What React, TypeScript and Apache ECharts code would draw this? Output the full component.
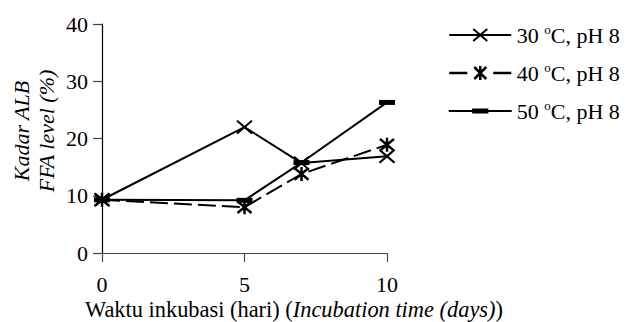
import React, { useEffect, useRef } from "react";
import * as echarts from "echarts";

const days = [0, 5, 7, 10];
const seriesNames = ["30 oC, pH 8", "40 oC, pH 8", "50 oC, pH 8"];
const ffa30 = [9.3, 22.0, 15.7, 16.9];
const ffa40 = [9.3, 8.0, 13.8, 18.9];
const ffa50 = [9.3, 9.2, 15.8, 26.3];
const yTicks = [0, 10, 20, 30, 40];
const xTicks = [0, 5, 10];

const FONT = "'Liberation Serif', 'Times New Roman', serif";

const CROSS = "path://M0,0L10,10M10,0L0,10";
const STAR = "path://M0,0L10,10M10,0L0,10M5,-1L5,11";

// legend icons: 62 x 17 boxes (line + marker)
const ICON30 = "path://M0,8.5L62,8.5M24,2.5L38,14.5M38,2.5L24,14.5M0,0M62,17";
const ICON40 = "path://M0,8.5L18,8.5M44,8.5L62,8.5M25,2.5L37,14.5M37,2.5L25,14.5M31,1.5L31,15.5M0,0M62,17";
const ICON50 = "path://M0,7.5L62,7.5L62,9.5L0,9.5ZM23,6L39,6L39,11L23,11Z";

export default function App() {
  const ref = useRef<HTMLDivElement>(null);
  useEffect(() => {
    document.body.style.margin = "0";
    const chart = echarts.init(ref.current!, undefined, { renderer: "svg" });
    const mk = (vals: number[]) => days.map((d, i) => [d, vals[i]]);
    const lineBase = { color: "#000", width: 2 };
    chart.setOption({
      animation: false,
      backgroundColor: "#fff",
      textStyle: { fontFamily: FONT },
      grid: { left: 102, top: 24, width: 285, height: 229, containLabel: false },
      xAxis: {
        type: "value",
        min: xTicks[0],
        max: xTicks[xTicks.length - 1],
        interval: 5,
        axisLine: { lineStyle: { color: "#444", width: 1.2 } },
        axisTick: { show: true, length: 9, lineStyle: { color: "#444", width: 1.2 } },
        axisLabel: { margin: 20, color: "#000", fontFamily: FONT, fontSize: 22 },
        splitLine: { show: false },
      },
      yAxis: {
        type: "value",
        min: yTicks[0],
        max: yTicks[yTicks.length - 1],
        interval: 10,
        axisLine: { show: true, lineStyle: { color: "#000", width: 1.2 } },
        axisTick: { show: true, length: 9, lineStyle: { color: "#444", width: 1.2 } },
        axisLabel: { margin: 14, color: "#000", fontFamily: FONT, fontSize: 22 },
        splitLine: { show: false },
      },
      legend: {
        orient: "vertical",
        left: 443,
        top: 18,
        itemWidth: 63,
        itemHeight: 17,
        itemGap: 14,
        symbolKeepAspect: true,
        data: [
          { name: seriesNames[0], icon: ICON30, itemStyle: { color: "transparent", borderColor: "#000", borderWidth: 2 } },
          { name: seriesNames[1], icon: ICON40, itemStyle: { color: "transparent", borderColor: "#000", borderWidth: 2.5 } },
          { name: seriesNames[2], icon: ICON50, itemStyle: { color: "#000", borderColor: "#000", borderWidth: 0 } },
        ],
        formatter: (name: string) => name.replace(" oC", " {sup|o}C"),
        textStyle: {
          fontFamily: FONT,
          fontSize: 22,
          color: "#000",
          lineHeight: 24,
          rich: {
            sup: { fontFamily: FONT, fontSize: 13, verticalAlign: "top", lineHeight: 24, padding: [0, 0, 10, 0] },
          },
        },
      },
      graphic: [
        {
          type: "text",
          x: 294,
          y: 309,
          style: {
            text: "{n|Waktu inkubasi (hari) (}{i|Incubation time (days)}{n|)}",
            align: "center",
            verticalAlign: "middle",
            fill: "#000",
            rich: {
              n: { fontFamily: FONT, fontSize: 22.4, fill: "#000" },
              i: { fontFamily: FONT, fontSize: 22.4, fontStyle: "italic", fill: "#000" },
            },
          },
        },
        {
          type: "text",
          x: 34,
          y: 131,
          rotation: Math.PI / 2,
          style: {
            text: "Kadar ALB\nFFA level (%)",
            align: "center",
            verticalAlign: "middle",
            fontFamily: FONT,
            fontSize: 22,
            fontStyle: "italic",
            lineHeight: 25,
            fill: "#000",
          },
        },
      ],
      series: [
        {
          name: seriesNames[0],
          type: "line",
          data: mk(ffa30),
          symbol: CROSS,
          symbolSize: [15, 13],
          itemStyle: { color: "transparent", borderColor: "#000", borderWidth: 2 },
          lineStyle: { ...lineBase },
        },
        {
          name: seriesNames[1],
          type: "line",
          data: mk(ffa40),
          symbol: STAR,
          symbolSize: [14, 14],
          itemStyle: { color: "transparent", borderColor: "#000", borderWidth: 2.5 },
          lineStyle: { ...lineBase, type: [18, 6] },
        },
        {
          name: seriesNames[2],
          type: "line",
          data: mk(ffa50),
          symbol: "rect",
          symbolSize: [16, 5],
          itemStyle: { color: "#000", borderColor: "#000", borderWidth: 0 },
          lineStyle: { ...lineBase },
        },
      ],
    });
    return () => chart.dispose();
  }, []);
  return <div ref={ref} style={{ width: 625, height: 322 }} />;
}
